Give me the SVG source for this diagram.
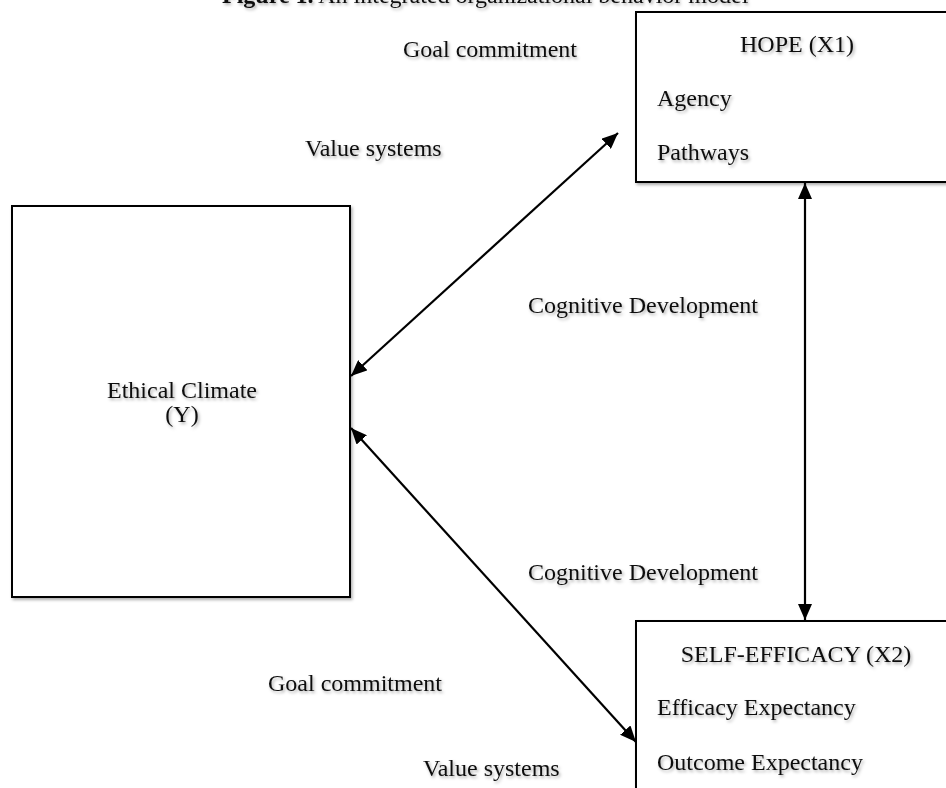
<svg xmlns="http://www.w3.org/2000/svg" width="946" height="788" viewBox="0 0 946 788">
  <style>
    text { font-family: "Liberation Serif", "Times New Roman", serif; font-size: 24px; fill: #111; }
    .title { font-size: 24px; }
    .box { fill: #fff; stroke: #000; stroke-width: 2; }
    .conn { stroke: #000; stroke-width: 2.2; fill: none; }
    .sh { filter: url(#shadow); }
  </style>
  <defs>
    <filter id="shadow" x="-10%" y="-30%" width="130%" height="180%">
      <feDropShadow dx="1.5" dy="2" stdDeviation="1.6" flood-color="#000" flood-opacity="0.32"/>
    </filter>
    <marker id="arrow" viewBox="0 0 16 14" refX="16" refY="7" markerWidth="16" markerHeight="14" markerUnits="userSpaceOnUse" orient="auto-start-reverse">
      <path d="M0,0 L16,7 L0,14 z" fill="#000"/>
    </marker>
  </defs>
  <rect width="946" height="788" fill="#fff"/>

  <text class="title sh" x="222" y="3"><tspan font-weight="bold">Figure 1.</tspan> An integrated organizational behavior model</text>

  <g id="connectors">
    <line class="conn" x1="351" y1="376" x2="618" y2="133" marker-start="url(#arrow)" marker-end="url(#arrow)"/>
    <line class="conn" x1="351" y1="428" x2="636" y2="742" marker-start="url(#arrow)" marker-end="url(#arrow)"/>
    <line class="conn" x1="805" y1="183" x2="805" y2="620" marker-start="url(#arrow)" marker-end="url(#arrow)"/>
  </g>

  <g id="ethical">
    <rect class="box sh" x="12" y="206" width="338" height="391"/>
    <text class="sh" x="182" y="398" text-anchor="middle">Ethical Climate</text>
    <text class="sh" x="182" y="422" text-anchor="middle">(Y)</text>
  </g>

  <g id="hope">
    <rect class="box sh" x="636" y="12" width="340" height="170"/>
    <text class="sh" x="797" y="52" text-anchor="middle">HOPE (X1)</text>
    <text class="sh" x="657" y="106">Agency</text>
    <text class="sh" x="657" y="160">Pathways</text>
  </g>

  <g id="selfefficacy">
    <rect class="box sh" x="636" y="621" width="340" height="200"/>
    <text class="sh" x="796" y="662" text-anchor="middle">SELF-EFFICACY (X2)</text>
    <text class="sh" x="657" y="715">Efficacy Expectancy</text>
    <text class="sh" x="657" y="770">Outcome Expectancy</text>
  </g>

  <g id="labels">
    <text class="sh" x="403" y="57">Goal commitment</text>
    <text class="sh" x="305" y="156">Value systems</text>
    <text class="sh" x="528" y="313">Cognitive Development</text>
    <text class="sh" x="528" y="580">Cognitive Development</text>
    <text class="sh" x="268" y="691">Goal commitment</text>
    <text class="sh" x="423" y="776">Value systems</text>
  </g>
</svg>
